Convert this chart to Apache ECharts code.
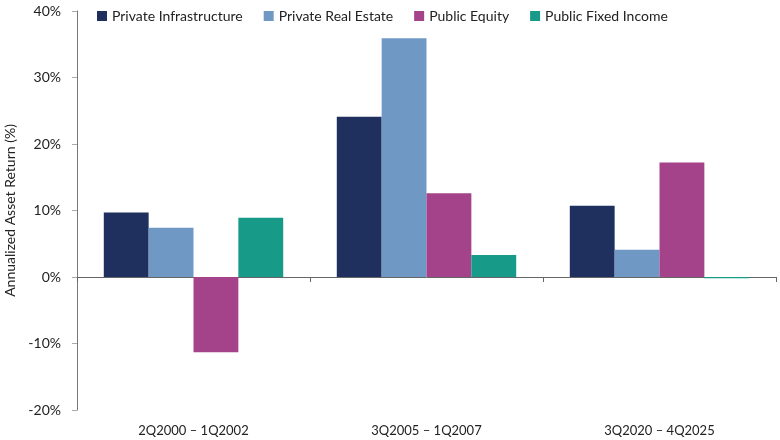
<!DOCTYPE html>
<html>
<head>
<meta charset="utf-8">
<script src="https://cdn.jsdelivr.net/npm/echarts@6/dist/echarts.min.js"></script>
<style>
  html, body { margin: 0; padding: 0; background: #fff; }
  #chart { width: 780px; height: 440px; }
</style>
</head>
<body>
<div id="chart"></div>
<script>
var periods = ['2Q2000 – 1Q2002', '3Q2005 – 1Q2007', '3Q2020 – 4Q2025']
var privateInfra = [9.7, 24.1, 10.7]
var privateRealEstate = [7.4, 35.9, 4.1]
var publicEquity = [-11.3, 12.6, 17.2]
var publicFixedIncome = [8.9, 3.3, -0.2]
var seriesNames = ['Private Infrastructure', 'Private Real Estate', 'Public Equity', 'Public Fixed Income']

var font = 'Lato, "Open Sans", sans-serif'
var chart = echarts.init(document.getElementById('chart'))

function bar(name, data) {
  return {
    name: name,
    type: 'bar',
    data: data,
    barGap: '0%',
    barCategoryGap: '23%',
    xAxisIndex: 0
  }
}

var option = {
  animation: false,
  color: ['#1f2f5e', '#7098c5', '#a5438a', '#179a87'],
  textStyle: { fontFamily: font },
  legend: {
    data: seriesNames,
    left: 92,
    top: 4,
    itemWidth: 10,
    itemHeight: 10,
    itemGap: 21,
    icon: 'rect',
    textStyle: { fontSize: 14, color: '#222', fontFamily: font }
  },
  grid: { left: 77, right: 4, top: 11, bottom: 30, containLabel: false, outerBoundsMode: 'none' },
  xAxis: [{
    type: 'category',
    data: periods,
    axisLine: { onZero: true, lineStyle: { color: '#666', width: 1 } },
    axisTick: { show: true, length: 5, lineStyle: { color: '#666' } },
    axisLabel: { show: false }
  }, {
    type: 'category',
    data: periods,
    position: 'bottom',
    axisLine: { show: false },
    axisTick: { show: false },
    axisLabel: { margin: 14, fontSize: 13, color: '#222', fontFamily: font }
  }],
  yAxis: {
    type: 'value',
    min: -20,
    max: 40,
    interval: 10,
    name: 'Annualized Asset Return (%)',
    nameLocation: 'middle',
    nameGap: 57,
    nameTextStyle: { fontSize: 14, color: '#222', fontFamily: font },
    axisLine: { show: true, lineStyle: { color: '#777', width: 1 } },
    axisTick: { show: true, length: 5, lineStyle: { color: '#aaa' } },
    splitLine: { show: false },
    axisLabel: {
      margin: 16,
      fontSize: 14,
      color: '#222',
      fontFamily: font,
      formatter: '{value}%'
    }
  },
  series: [
    bar(seriesNames[0], privateInfra),
    bar(seriesNames[1], privateRealEstate),
    bar(seriesNames[2], publicEquity),
    bar(seriesNames[3], publicFixedIncome)
  ]
}
chart.setOption(option)
</script>
</body>
</html>
